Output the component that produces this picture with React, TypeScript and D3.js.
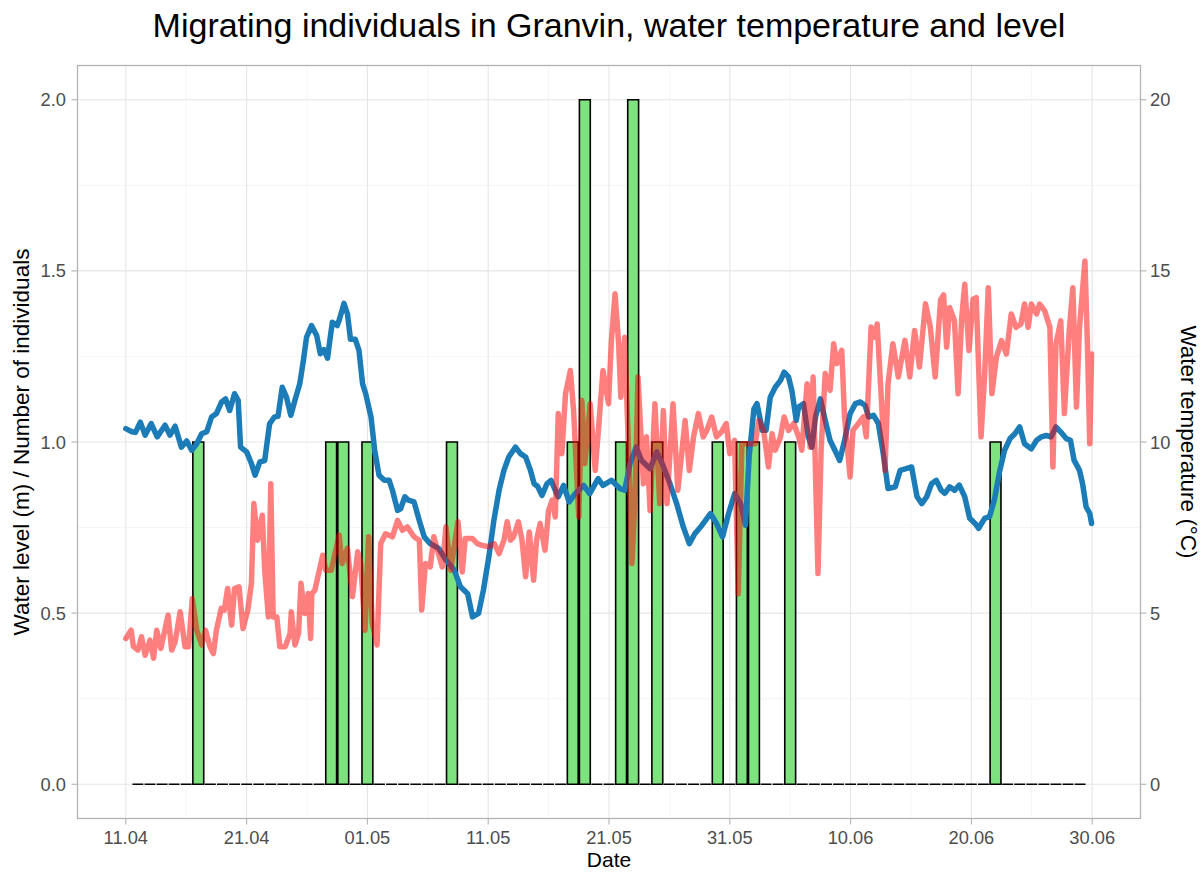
import React, { useEffect } from "react";
import * as d3 from "d3";

// ---------- DATA ----------
// Water level (m): [days since 11.04 00:00, level]
const waterLevel: [number, number][] = [
  [0, 1.039], [0.5, 1.03], [0.8, 1.028], [1.2, 1.058], [1.6, 1.02], [2.1, 1.054], [2.6, 1.015],
  [3.25, 1.049], [3.66, 1.02], [4.08, 1.046], [4.6, 0.985], [5.04, 1.003], [5.45, 0.976],
  [5.87, 0.995], [6.28, 1.024], [6.7, 1.03], [7.1, 1.073], [7.5, 1.083], [7.93, 1.117],
  [8.26, 1.126], [8.6, 1.092], [9.0, 1.141], [9.3, 1.122], [9.5, 0.985], [10.0, 0.971],
  [10.4, 0.937], [10.7, 0.903], [11.1, 0.942], [11.5, 0.946], [11.9, 1.053], [12.3, 1.073],
  [12.6, 1.075], [12.95, 1.16], [13.3, 1.131], [13.66, 1.078], [14.0, 1.122], [14.4, 1.17],
  [14.7, 1.238], [14.96, 1.306], [15.37, 1.34], [15.8, 1.311], [16.1, 1.258], [16.4, 1.27],
  [16.7, 1.245], [16.9, 1.3], [17.1, 1.35], [17.5, 1.34], [17.7, 1.36], [18.06, 1.405],
  [18.35, 1.374], [18.6, 1.3], [19.0, 1.3], [19.3, 1.268], [19.6, 1.17], [19.86, 1.141],
  [20.3, 1.073], [20.6, 0.976], [20.96, 0.903], [21.4, 0.888], [21.8, 0.888], [22.07, 0.859],
  [22.5, 0.8], [22.75, 0.805], [23.1, 0.84], [23.4, 0.83], [23.86, 0.825], [24.3, 0.77],
  [24.7, 0.723], [25.2, 0.703], [25.9, 0.689], [26.5, 0.655], [27.2, 0.625], [27.7, 0.577],
  [28.3, 0.557], [28.7, 0.489], [29.2, 0.499], [29.6, 0.567], [30.05, 0.664], [30.47, 0.771],
  [30.9, 0.859], [31.3, 0.917], [31.7, 0.956], [32.26, 0.985], [32.67, 0.966], [33.1, 0.956],
  [33.5, 0.917], [33.8, 0.878], [34.1, 0.87], [34.45, 0.844], [34.86, 0.878], [35.2, 0.888],
  [35.55, 0.859], [35.8, 0.84], [36.24, 0.873], [36.7, 0.825], [37.2, 0.849], [37.9, 0.873],
  [38.4, 0.849], [39.1, 0.893], [39.5, 0.873], [40.2, 0.888], [40.9, 0.864], [41.3, 0.859],
  [41.75, 0.937], [42.25, 0.985], [42.7, 0.946], [43.4, 0.922], [43.95, 0.971], [44.4, 0.937],
  [45.05, 0.878], [45.6, 0.82], [46.15, 0.752], [46.65, 0.703], [47.1, 0.732], [47.7, 0.757],
  [48.4, 0.791], [48.9, 0.762], [49.4, 0.723], [49.9, 0.791], [50.4, 0.849], [50.9, 0.82],
  [51.3, 0.757], [51.6, 0.956], [52.0, 1.097], [52.25, 1.112], [52.7, 1.034], [53.0, 1.034],
  [53.35, 1.131], [53.76, 1.16], [54.2, 1.18], [54.5, 1.204], [54.86, 1.19], [55.14, 1.15],
  [55.5, 1.063], [55.7, 1.102], [56.1, 1.112], [56.5, 1.015], [56.8, 0.985], [57.1, 1.073],
  [57.5, 1.126], [57.9, 1.063], [58.3, 1.005], [58.7, 0.976], [59.1, 0.946], [59.5, 1.005],
  [59.96, 1.083], [60.4, 1.112], [60.8, 1.117], [61.2, 1.107], [61.5, 1.073], [61.9, 1.078],
  [62.3, 1.054], [62.7, 0.966], [63.1, 0.864], [63.7, 0.869], [64.1, 0.917], [64.6, 0.922],
  [65.05, 0.927], [65.5, 0.84], [65.9, 0.82], [66.3, 0.84], [66.7, 0.878], [67.1, 0.888],
  [67.5, 0.859], [67.8, 0.85], [68.2, 0.869], [68.6, 0.859], [69.0, 0.874], [69.45, 0.84],
  [69.86, 0.777], [70.3, 0.762], [70.6, 0.748], [71.1, 0.777], [71.5, 0.782], [71.9, 0.83],
  [72.3, 0.908], [72.75, 0.976], [73.2, 1.01], [73.6, 1.024], [74.0, 1.044], [74.4, 0.995],
  [74.96, 0.98], [75.4, 1.005], [75.8, 1.015], [76.2, 1.019], [76.6, 1.015], [77.0, 1.044],
  [77.4, 1.029], [77.85, 1.01], [78.2, 1.005], [78.5, 0.947], [78.95, 0.917], [79.2, 0.879],
  [79.5, 0.81], [79.8, 0.791], [79.95, 0.762],
];

// Water temperature (°C): [days since 11.04 00:00, temperature]
const waterTemp: [number, number][] = [
  [0, 4.26], [0.44, 4.5], [0.63, 4.02], [1.0, 3.92], [1.3, 4.31], [1.6, 3.77], [2.0, 4.21],
  [2.3, 3.68], [2.56, 4.5], [2.9, 3.97], [3.5, 4.94], [3.8, 3.92], [4.08, 4.16], [4.5, 5.04],
  [4.9, 4.02], [5.2, 4.02], [5.5, 5.43], [5.87, 4.5], [6.28, 4.07], [6.6, 4.5], [6.97, 4.02],
  [7.25, 3.82], [7.5, 4.5], [7.9, 5.14], [8.15, 5.09], [8.43, 5.72], [8.76, 4.65], [9.0, 5.72],
  [9.37, 5.77], [9.7, 4.55], [10.1, 5.09], [10.4, 5.87], [10.6, 8.2], [10.9, 7.13], [11.3, 7.86],
  [11.5, 6.25], [11.8, 4.89], [12.0, 8.78], [12.2, 4.89], [12.5, 4.89], [12.75, 4.02],
  [13.2, 4.02], [13.6, 4.41], [13.7, 5.04], [14.0, 4.07], [14.3, 4.41], [14.5, 5.87],
  [14.8, 4.99], [15.1, 5.57], [15.3, 4.26], [15.4, 5.57], [15.65, 5.67], [15.9, 6.06],
  [16.3, 6.69], [16.56, 6.25], [17.0, 6.25], [17.25, 6.64], [17.66, 7.28], [17.9, 6.45],
  [18.35, 6.89], [18.76, 5.48], [19.2, 6.79], [19.45, 6.45], [19.8, 4.5], [20.1, 7.23],
  [20.4, 4.7], [20.8, 4.07], [21.1, 7.03], [21.5, 7.32], [22.07, 7.23], [22.5, 7.71],
  [22.9, 7.42], [23.3, 7.52], [23.86, 7.23], [24.3, 7.13], [24.5, 5.09], [24.8, 6.45],
  [25.2, 6.35], [25.5, 7.23], [25.8, 6.84], [26.2, 6.35], [26.5, 7.52], [26.9, 6.25],
  [27.3, 7.23], [27.5, 7.67], [27.85, 6.2], [28.1, 7.18], [28.7, 7.18], [29.1, 7.03],
  [29.5, 6.98], [30.05, 6.94], [30.5, 7.03], [30.9, 6.74], [31.3, 7.13], [31.57, 7.67],
  [31.85, 7.13], [32.1, 7.23], [32.5, 7.67], [32.8, 7.13], [33.1, 6.06], [33.4, 7.37],
  [33.76, 5.96], [34.0, 7.13], [34.3, 7.62], [34.7, 6.84], [35.0, 8.0], [35.3, 8.3],
  [35.55, 7.81], [35.8, 10.83], [36.1, 9.66], [36.4, 11.41], [36.8, 12.09], [37.07, 10.92],
  [37.5, 7.81], [37.75, 11.22], [38.0, 9.37], [38.44, 11.12], [38.86, 9.17], [39.1, 10.24],
  [39.5, 12.09], [39.96, 11.12], [40.2, 12.97], [40.5, 14.33], [40.8, 12.87], [40.98, 11.31],
  [41.3, 13.06], [41.6, 9.95], [41.9, 6.45], [42.15, 8.3], [42.4, 11.9], [42.85, 8.78],
  [43.1, 10.15], [43.4, 8.0], [43.8, 11.12], [44.2, 8.2], [44.5, 10.92], [44.8, 8.2],
  [45.3, 11.12], [45.7, 8.59], [46.3, 10.63], [46.65, 9.17], [47.0, 10.15], [47.4, 10.83],
  [47.8, 10.15], [48.1, 10.34], [48.5, 10.73], [48.9, 10.15], [49.3, 10.29], [49.7, 10.54],
  [50.0, 9.66], [50.4, 10.05], [50.7, 5.57], [51.0, 9.95], [51.6, 9.95], [52.1, 9.95],
  [52.4, 10.63], [52.8, 10.34], [53.2, 9.27], [53.5, 10.24], [53.76, 9.76], [54.2, 10.15],
  [54.5, 10.73], [54.86, 10.34], [55.3, 10.54], [55.7, 10.15], [55.96, 9.76], [56.4, 11.7],
  [56.65, 9.85], [56.9, 11.9], [57.3, 6.16], [57.56, 9.76], [57.9, 12.0], [58.3, 11.51],
  [58.6, 12.87], [58.86, 12.29], [59.27, 12.68], [59.5, 10.73], [59.96, 8.98], [60.2, 10.34],
  [60.65, 10.54], [61.06, 10.73], [61.3, 10.15], [61.7, 13.36], [62.0, 13.06], [62.2, 13.45],
  [62.6, 10.92], [62.85, 9.17], [63.1, 11.7], [63.5, 12.87], [63.95, 11.9], [64.5, 12.97],
  [64.9, 11.9], [65.3, 13.26], [65.7, 12.19], [66.2, 14.04], [66.6, 13.36], [67.0, 11.9],
  [67.45, 14.15], [67.7, 14.3], [67.95, 12.77], [68.2, 13.93], [68.6, 13.54], [68.9, 11.41],
  [69.2, 13.64], [69.45, 14.61], [69.8, 12.67], [70.14, 14.17], [70.4, 14.22], [70.8, 10.15],
  [71.1, 11.99], [71.4, 14.51], [71.7, 11.41], [72.07, 12.48], [72.5, 12.96], [72.9, 12.57],
  [73.3, 13.74], [73.7, 13.35], [74.1, 13.45], [74.4, 14.03], [74.7, 13.35], [74.96, 14.03],
  [75.4, 13.74], [75.65, 14.03], [76.06, 13.84], [76.5, 13.35], [76.75, 9.27], [77.0, 12.86],
  [77.4, 13.54], [77.7, 10.83], [78.1, 13.25], [78.4, 14.51], [78.7, 11.02], [78.95, 13.35],
  [79.4, 15.29], [79.6, 12.96], [79.8, 9.95], [79.95, 12.57],
];

// Daily number of migrating individuals, 12.04 .. 29.06
const countsFirstDay = "2021-04-12";
const dailyCounts: number[] = [
  0, 0, 0, 0, 0, 1, 0, 0, 0, 0,
  0, 0, 0, 0, 0, 0, 1, 1, 0, 1,
  0, 0, 0, 0, 0, 0, 1, 0, 0, 0,
  0, 0, 0, 0, 0, 0, 1, 2, 0, 0,
  1, 2, 0, 1, 0, 0, 0, 0, 1, 0,
  1, 1, 0, 0, 1, 0, 0, 0, 0, 0,
  0, 0, 0, 0, 0, 0, 0, 0, 0, 0,
  0, 1, 0, 0, 0, 0, 0, 0, 0,
];

const seriesStart = "2021-04-11";
const xTickDates = ["2021-04-11", "2021-04-21", "2021-05-01", "2021-05-11", "2021-05-21", "2021-05-31", "2021-06-10", "2021-06-20", "2021-06-30"];
const xDomain = ["2021-04-07", "2021-07-04"];
const yTicksLeft = [0, 0.5, 1.0, 1.5, 2.0];
const yMinorLeft = [0.25, 0.75, 1.25, 1.75];
const tempScaleFactor = 10;

const title = "Migrating individuals in Granvin, water temperature and level";
const xTitle = "Date";
const yTitleLeft = "Water level (m) / Number of individuals";
const yTitleRight = "Water temperature (°C)";

// ---------- LAYOUT ----------
const W = 1203, H = 872;
const P = { left: 77.5, right: 1140.5, top: 65.5, bottom: 818.5 };
const FONT = "'Liberation Sans', Arial, Helvetica, sans-serif";
const DAY = 864e5;

export default function App() {
  useEffect(() => {
    document.body.style.margin = "0";
    document.body.style.overflow = "hidden";
  }, []);

  const parse = (s: string) => new Date(s + "T00:00:00Z");
  const x = d3.scaleUtc().domain(xDomain.map(parse)).range([P.left, P.right]);
  const y = d3.scaleLinear().domain([-0.1, 2.1]).range([P.bottom, P.top]);
  const t0 = parse(seriesStart).getTime();
  const ticks = xTickDates.map(parse);
  const minorTicks = ticks.slice(0, -1).map((d) => new Date(d.getTime() + 5 * DAY));
  const fmt = d3.utcFormat("%d.%m");

  const line = d3
    .line<[number, number]>()
    .x((d) => x(new Date(t0 + d[0] * DAY)))
    .y((d) => y(d[1]));
  const tempLine = d3
    .line<[number, number]>()
    .x((d) => x(new Date(t0 + d[0] * DAY)))
    .y((d) => y(d[1] / tempScaleFactor));

  const c0 = parse(countsFirstDay).getTime();
  const bars = dailyCounts.map((v, i) => {
    const c = c0 + i * DAY;
    const x0 = x(new Date(c - 0.45 * DAY));
    const x1 = x(new Date(c + 0.45 * DAY));
    return { x0, x1, y0: y(0), y1: y(v) };
  });

  const gridMajor = "#E5E5E5";
  const gridMinor = "#F2F2F2";
  const tickCol = "#B3B3B3";
  const labCol = "#4D4D4D";
  const tickFs = 18.3;
  const axisFs = 22.5;

  return (
    <svg width={W} height={H} style={{ display: "block", position: "absolute", left: 0, top: 0 }} fontFamily={FONT}>
      <rect x={0} y={0} width={W} height={H} fill="#fff" />
      {/* minor grid */}
      {minorTicks.map((d, i) => (
        <line key={"mx" + i} x1={x(d)} x2={x(d)} y1={P.top} y2={P.bottom} stroke={gridMinor} strokeWidth={0.8} />
      ))}
      {yMinorLeft.map((v, i) => (
        <line key={"my" + i} x1={P.left} x2={P.right} y1={y(v)} y2={y(v)} stroke={gridMinor} strokeWidth={0.8} />
      ))}
      {/* major grid */}
      {ticks.map((d, i) => (
        <line key={"gx" + i} x1={x(d)} x2={x(d)} y1={P.top} y2={P.bottom} stroke={gridMajor} strokeWidth={1.1} />
      ))}
      {yTicksLeft.map((v, i) => (
        <line key={"gy" + i} x1={P.left} x2={P.right} y1={y(v)} y2={y(v)} stroke={gridMajor} strokeWidth={1.1} />
      ))}

      {/* bars */}
      {bars.map((b, i) => (
        <path
          key={"b" + i}
          d={`M${b.x0},${b.y0}H${b.x1}V${b.y1}H${b.x0}Z`}
          fill="#7EE37E"
          stroke="#000"
          strokeWidth={1.6}
        />
      ))}

      {/* lines */}
      <path d={line(waterLevel) || ""} fill="none" stroke="#1B7CB8" strokeWidth={5.5} strokeLinejoin="round" strokeLinecap="round" />
      <path d={tempLine(waterTemp) || ""} fill="none" stroke="#FF0000" strokeOpacity={0.5} strokeWidth={5.5} strokeLinejoin="round" strokeLinecap="round" />

      {/* panel border */}
      <rect x={P.left} y={P.top} width={P.right - P.left} height={P.bottom - P.top} fill="none" stroke={tickCol} strokeWidth={1.3} />

      {/* x axis */}
      {ticks.map((d, i) => (
        <g key={"xt" + i}>
          <line x1={x(d)} x2={x(d)} y1={P.bottom} y2={P.bottom + 6} stroke={tickCol} strokeWidth={1.1} />
          <text x={x(d)} y={844} textAnchor="middle" fontSize={tickFs} fill={labCol}>
            {fmt(d)}
          </text>
        </g>
      ))}
      {/* left y axis */}
      {yTicksLeft.map((v, i) => (
        <g key={"yl" + i}>
          <line x1={P.left - 6} x2={P.left} y1={y(v)} y2={y(v)} stroke={tickCol} strokeWidth={1.1} />
          <text x={66} y={y(v) + 6.5} textAnchor="end" fontSize={tickFs} fill={labCol}>
            {v.toFixed(1)}
          </text>
        </g>
      ))}
      {/* right y axis */}
      {yTicksLeft.map((v, i) => (
        <g key={"yr" + i}>
          <line x1={P.right} x2={P.right + 6} y1={y(v)} y2={y(v)} stroke={tickCol} strokeWidth={1.1} />
          <text x={1150} y={y(v) + 6.5} textAnchor="start" fontSize={tickFs} fill={labCol}>
            {String(Math.round(v * tempScaleFactor))}
          </text>
        </g>
      ))}

      {/* titles */}
      <text x={(P.left + P.right) / 2} y={37} textAnchor="middle" fontSize={34} fill="#000">
        {title}
      </text>
      <text x={(P.left + P.right) / 2} y={867} textAnchor="middle" fontSize={21} fill="#000">
        {xTitle}
      </text>
      <text transform={`translate(29,${(P.top + P.bottom) / 2}) rotate(-90)`} textAnchor="middle" fontSize={axisFs} fill="#000">
        {yTitleLeft}
      </text>
      <text transform={`translate(1180.5,${(P.top + P.bottom) / 2}) rotate(90)`} textAnchor="middle" fontSize={axisFs} fill="#000">
        {yTitleRight}
      </text>
    </svg>
  );
}
